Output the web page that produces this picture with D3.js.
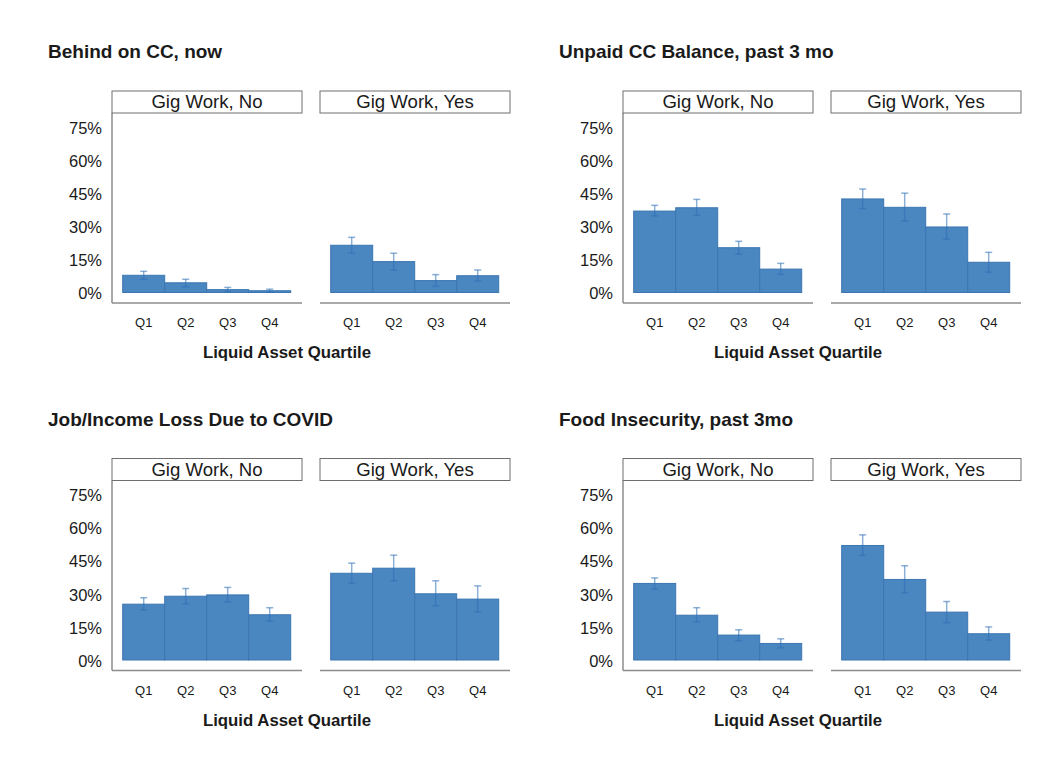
<!DOCTYPE html>
<html>
<head>
<meta charset="utf-8">
<script src="https://cdn.jsdelivr.net/npm/d3@7"></script>
<style>
  html, body { margin: 0; padding: 0; background: #fff; }
  svg { display: block; font-family: "Liberation Sans", Arial, Helvetica, sans-serif; }
</style>
</head>
<body>
<svg id="chart" width="1058" height="767"></svg>
<script>
// Categories and labels
const quartiles = ["Q1", "Q2", "Q3", "Q4"];
const facets = ["Gig Work, No", "Gig Work, Yes"];
const yTicks = [0, 15, 30, 45, 60, 75];
const chartTitles = [
  "Behind on CC, now",
  "Unpaid CC Balance, past 3 mo",
  "Job/Income Loss Due to COVID",
  "Food Insecurity, past 3mo"
];

// Estimates (%) by facet [No, Yes] and quartile, with confidence bounds
const behindEst = [[7.8, 4.4, 1.3, 0.8], [21.4, 14.0, 5.4, 7.6]];
const behindLo  = [[6.0, 2.6, 0.4, 0.2], [17.8, 10.1, 2.8, 5.2]];
const behindHi  = [[9.6, 6.0, 2.3, 1.5], [25.0, 17.8, 8.1, 10.2]];

const unpaidEst = [[36.9, 38.4, 20.3, 10.6], [42.4, 38.6, 29.7, 13.7]];
const unpaidLo  = [[34.7, 35.0, 17.4, 8.2], [38.0, 32.5, 24.1, 9.2]];
const unpaidHi  = [[39.5, 42.2, 23.2, 13.2], [46.9, 45.0, 35.6, 18.2]];

const jobLossEst = [[25.3, 28.9, 29.5, 20.5], [39.3, 41.6, 30.0, 27.6]];
const jobLossLo  = [[22.7, 25.5, 26.4, 17.6], [34.8, 35.9, 24.6, 21.8]];
const jobLossHi  = [[28.2, 32.4, 32.9, 23.7], [43.9, 47.5, 35.9, 33.6]];

const foodEst = [[34.7, 20.3, 11.3, 7.5], [51.9, 36.5, 21.7, 11.9]];
const foodLo  = [[32.1, 17.3, 8.7, 5.5], [47.4, 30.5, 16.9, 9.0]];
const foodHi  = [[37.2, 23.7, 13.7, 9.6], [56.7, 42.7, 26.5, 15.0]];

const charts = [
  { title: chartTitles[0], est: behindEst, lo: behindLo, hi: behindHi },
  { title: chartTitles[1], est: unpaidEst, lo: unpaidLo, hi: unpaidHi },
  { title: chartTitles[2], est: jobLossEst, lo: jobLossLo, hi: jobLossHi },
  { title: chartTitles[3], est: foodEst, lo: foodLo, hi: foodHi }
];

// Layout
const blockOffsets = [[0, 0], [511, 0], [0, 367.5], [511, 367.5]];
const panelLefts = [112, 320];
const panelW = 190;
const stripTop = 91, stripBottom = 113;
const panelBottom = 303;

const barFill = "#4a86c0";
const barStroke = "#3c76b2";
const errColor = "rgba(46,111,181,0.55)";
const textColor = "#1a1a1a";
const lineColor = "#8c8c8c";

const svg = d3.select("#chart");

const y = d3.scaleLinear().domain([0, 75]).range([292.5, 127]);
const x = d3.scaleBand().domain(quartiles).range([10.7, 178.7]).paddingInner(0).paddingOuter(0);

charts.forEach((c, ci) => {
  const [ox, oy] = blockOffsets[ci];
  const g = svg.append("g").attr("transform", `translate(${ox},${oy})`);

  g.append("text")
    .attr("x", 48).attr("y", 58)
    .attr("font-size", 19).attr("font-weight", "bold")
    .attr("fill", textColor)
    .text(c.title);

  // y axis labels
  const yAxis = d3.axisLeft(y)
    .tickValues(yTicks)
    .tickFormat(d => d + "%")
    .tickSize(0)
    .tickPadding(10);
  const ya = g.append("g").attr("transform", `translate(${panelLefts[0]},1)`).call(yAxis);
  ya.select(".domain").remove();
  ya.selectAll("text").attr("font-size", 16.5).attr("fill", textColor)
    .attr("font-family", "'Liberation Sans', Arial, sans-serif");

  // left axis line
  g.append("line")
    .attr("x1", panelLefts[0]).attr("x2", panelLefts[0])
    .attr("y1", stripBottom).attr("y2", panelBottom)
    .attr("stroke", lineColor).attr("stroke-width", 1.5);

  facets.forEach((f, fi) => {
    const px = panelLefts[fi];
    const pg = g.append("g").attr("transform", `translate(${px},0)`);

    // strip
    pg.append("rect")
      .attr("x", 0).attr("y", stripTop)
      .attr("width", panelW).attr("height", stripBottom - stripTop)
      .attr("fill", "#fff").attr("stroke", "#6e6e6e").attr("stroke-width", 1);
    pg.append("text")
      .attr("x", panelW / 2).attr("y", 108)
      .attr("text-anchor", "middle")
      .attr("font-size", 18.6).attr("fill", textColor)
      .text(f);

    // bottom line
    pg.append("line")
      .attr("x1", 0).attr("x2", panelW)
      .attr("y1", panelBottom).attr("y2", panelBottom)
      .attr("stroke", lineColor).attr("stroke-width", 1.5);

    const rows = quartiles.map((q, qi) => ({
      q, v: c.est[fi][qi], lo: c.lo[fi][qi], hi: c.hi[fi][qi]
    }));

    pg.selectAll("rect.bar").data(rows).join("rect")
      .attr("class", "bar")
      .attr("x", d => x(d.q))
      .attr("y", d => y(d.v))
      .attr("width", x.bandwidth())
      .attr("height", d => y(0) - y(d.v))
      .attr("fill", barFill)
      .attr("stroke", barStroke)
      .attr("stroke-width", 1);

    const eb = pg.selectAll("g.err").data(rows).join("g").attr("class", "err")
      .attr("stroke", errColor).attr("stroke-width", 1.5).attr("fill", "none");
    eb.append("line")
      .attr("x1", d => x(d.q) + x.bandwidth() / 2)
      .attr("x2", d => x(d.q) + x.bandwidth() / 2)
      .attr("y1", d => y(d.lo)).attr("y2", d => y(d.hi));
    eb.append("line")
      .attr("x1", d => x(d.q) + x.bandwidth() / 2 - 3.5)
      .attr("x2", d => x(d.q) + x.bandwidth() / 2 + 3.5)
      .attr("y1", d => y(d.hi)).attr("y2", d => y(d.hi));
    eb.append("line")
      .attr("x1", d => x(d.q) + x.bandwidth() / 2 - 3.5)
      .attr("x2", d => x(d.q) + x.bandwidth() / 2 + 3.5)
      .attr("y1", d => y(d.lo)).attr("y2", d => y(d.lo));

    // x axis labels
    const xAxis = d3.axisBottom(x).tickSize(0).tickPadding(15);
    const xa = pg.append("g").attr("transform", `translate(0,${panelBottom})`).call(xAxis);
    xa.select(".domain").remove();
    xa.selectAll("text").attr("font-size", 13).attr("fill", textColor)
      .attr("font-family", "'Liberation Sans', Arial, sans-serif");
  });

  g.append("text")
    .attr("x", 287).attr("y", 358)
    .attr("text-anchor", "middle")
    .attr("font-size", 16.8).attr("font-weight", "bold")
    .attr("fill", textColor)
    .text("Liquid Asset Quartile");
});
</script>
</body>
</html>
